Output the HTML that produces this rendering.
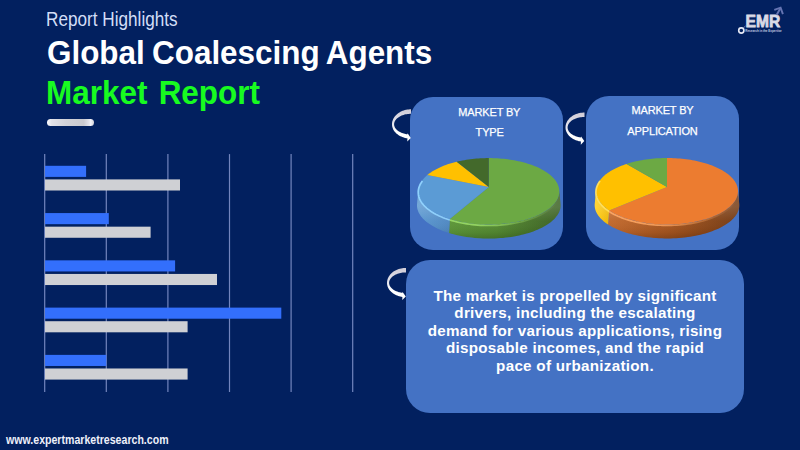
<!DOCTYPE html>
<html>
<head>
<meta charset="utf-8">
<style>
*{margin:0;padding:0;box-sizing:border-box}
html,body{width:800px;height:450px;overflow:hidden;background:#02205f}
body{position:relative;font-family:"Liberation Sans",Arial,sans-serif}
.t{position:absolute;white-space:nowrap;line-height:1}
#rh{left:45.5px;top:9.8px;font-size:19.3px;color:#d3def7;transform-origin:0 0;transform:scaleX(0.89)}
#t1{left:46.7px;top:36.9px;font-size:32.4px;font-weight:700;color:#fff;word-spacing:-1.5px;transform-origin:0 0;transform:scaleX(0.97)}
#t2{left:45.5px;top:77px;font-size:32.4px;font-weight:700;color:#18fb20;word-spacing:2.6px;transform-origin:0 0;transform:scaleX(0.971)}
#pill{position:absolute;left:47px;top:118.6px;width:47.2px;height:7.6px;border-radius:3.8px;
 background:linear-gradient(90deg,#fbfbff 0%,#e2e2e8 10%,#d2d2d8 40%,#c9c9cf 78%,#e4e4ec 90%,#f4f4fa 93%,#cfcfd6 100%)}
.card{position:absolute;background:#4472c4;border-radius:23px}
.ct{position:absolute;color:#fff;font-size:11px;line-height:1;white-space:nowrap;text-align:center;-webkit-text-stroke:0.25px #fff;letter-spacing:-0.15px}
#body{position:absolute;left:406px;top:286.7px;width:338px;text-align:center;color:#fff;font-weight:700;
 font-size:15.2px;line-height:17.6px;letter-spacing:0.28px}
#url{left:6px;top:433.8px;font-size:12px;font-weight:700;color:#eef0fa;transform-origin:0 0;transform:scaleX(0.882)}
svg{position:absolute;left:0;top:0}
</style>
</head>
<body>
<div class="t" id="rh">Report Highlights</div>
<div class="t" id="t1">Global Coalescing Agents</div>
<div class="t" id="t2">Market Report</div>
<div id="pill"></div>

<svg width="800" height="450" viewBox="0 0 800 450">
 <g stroke="#7f90c8" stroke-width="1.2" stroke-opacity="0.9">
  <line x1="44.7" y1="154.1" x2="44.7" y2="392"/>
  <line x1="106.3" y1="154.1" x2="106.3" y2="392"/>
  <line x1="167.9" y1="154.1" x2="167.9" y2="392"/>
  <line x1="229.5" y1="154.1" x2="229.5" y2="392"/>
  <line x1="291.1" y1="154.1" x2="291.1" y2="392"/>
  <line x1="352.7" y1="154.1" x2="352.7" y2="392"/>
 </g>
 <g fill="#336ffc">
  <rect x="45" y="165.80" width="41.1" height="11.1"/>
  <rect x="45" y="213.07" width="63.8" height="11.1"/>
  <rect x="45" y="260.34" width="130.1" height="11.1"/>
  <rect x="45" y="307.61" width="236.3" height="11.1"/>
  <rect x="45" y="354.88" width="61.3" height="11.1"/>
 </g>
 <g fill="#cfd0d4">
  <rect x="45" y="179.40" width="135.0" height="11.1"/>
  <rect x="45" y="226.67" width="105.6" height="11.1"/>
  <rect x="45" y="273.94" width="172.0" height="11.1"/>
  <rect x="45" y="321.21" width="142.6" height="11.1"/>
  <rect x="45" y="368.48" width="142.6" height="11.1"/>
 </g>
</svg>

<div class="card" style="left:410.4px;top:97.3px;width:152.3px;height:152.7px"></div>
<div class="card" style="left:586px;top:96px;width:153px;height:154.3px"></div>
<div class="card" style="left:406px;top:260px;width:338px;height:153px;border-radius:24px"></div>

<div class="ct" style="left:410.8px;width:157px;top:106.5px">MARKET BY</div>
<div class="ct" style="left:411.2px;width:157px;top:127.4px">TYPE</div>
<div class="ct" style="left:586px;width:153px;top:104.7px">MARKET BY</div>
<div class="ct" style="left:586px;width:153px;top:125.8px">APPLICATION</div>

<svg width="800" height="450" viewBox="0 0 800 450">
 <defs>
  <linearGradient id="ag" x1="0" y1="0" x2="0" y2="1">
   <stop offset="0" stop-color="#cfcbd6"/>
   <stop offset="0.45" stop-color="#e6e6ee"/>
   <stop offset="0.7" stop-color="#ffffff"/>
   <stop offset="1" stop-color="#ffffff"/>
  </linearGradient>
 </defs>
 <g id="arrows" fill="url(#ag)">
  <path d="M411.00,109.30 L409.76,109.33 L408.52,109.43 L407.29,109.59 L406.08,109.81 L404.89,110.10 L403.73,110.44 L402.60,110.85 L401.50,111.31 L400.44,111.83 L399.43,112.40 L398.47,113.02 L397.56,113.69 L396.72,114.41 L395.93,115.17 L395.20,115.97 L394.55,116.80 L393.96,117.67 L393.45,118.56 L393.01,119.48 L392.65,120.42 L392.37,121.37 L392.16,122.34 L392.04,123.32 L392.00,124.30 L392.03,125.12 L392.13,125.94 L392.28,126.75 L392.50,127.56 L392.78,128.36 L393.12,129.14 L393.52,129.90 L393.98,130.65 L394.49,131.38 L395.06,132.08 L395.68,132.75 L396.35,133.40 L397.07,134.02 L397.83,134.61 L398.64,135.16 L399.49,135.68 L400.38,136.16 L401.30,136.60 L402.26,137.00 L403.24,137.35 L404.25,137.67 L405.28,137.94 L406.33,138.16 L407.40,138.34 L407.30,141.50 L410.80,137.90 L407.60,133.30 L407.40,134.27 L406.47,134.13 L405.56,133.96 L404.67,133.76 L403.79,133.53 L402.94,133.27 L402.11,132.98 L401.32,132.66 L400.55,132.32 L399.82,131.95 L399.12,131.55 L398.46,131.14 L397.84,130.70 L397.26,130.24 L396.73,129.76 L396.24,129.27 L395.80,128.76 L395.40,128.23 L395.06,127.69 L394.77,127.14 L394.53,126.59 L394.34,126.02 L394.21,125.45 L394.13,124.88 L394.10,124.30 L394.14,123.61 L394.24,122.93 L394.42,122.25 L394.68,121.58 L395.00,120.92 L395.39,120.28 L395.84,119.66 L396.36,119.05 L396.95,118.47 L397.59,117.91 L398.29,117.38 L399.05,116.88 L399.86,116.41 L400.71,115.97 L401.61,115.57 L402.55,115.21 L403.53,114.88 L404.53,114.60 L405.57,114.36 L406.63,114.16 L407.70,114.00 L408.79,113.89 L409.89,113.82 L411.00,113.80 Z"/>
  <path transform="translate(173.5,3.2)" d="M411.00,109.30 L409.76,109.33 L408.52,109.43 L407.29,109.59 L406.08,109.81 L404.89,110.10 L403.73,110.44 L402.60,110.85 L401.50,111.31 L400.44,111.83 L399.43,112.40 L398.47,113.02 L397.56,113.69 L396.72,114.41 L395.93,115.17 L395.20,115.97 L394.55,116.80 L393.96,117.67 L393.45,118.56 L393.01,119.48 L392.65,120.42 L392.37,121.37 L392.16,122.34 L392.04,123.32 L392.00,124.30 L392.03,125.12 L392.13,125.94 L392.28,126.75 L392.50,127.56 L392.78,128.36 L393.12,129.14 L393.52,129.90 L393.98,130.65 L394.49,131.38 L395.06,132.08 L395.68,132.75 L396.35,133.40 L397.07,134.02 L397.83,134.61 L398.64,135.16 L399.49,135.68 L400.38,136.16 L401.30,136.60 L402.26,137.00 L403.24,137.35 L404.25,137.67 L405.28,137.94 L406.33,138.16 L407.40,138.34 L407.30,141.50 L410.80,137.90 L407.60,133.30 L407.40,134.27 L406.47,134.13 L405.56,133.96 L404.67,133.76 L403.79,133.53 L402.94,133.27 L402.11,132.98 L401.32,132.66 L400.55,132.32 L399.82,131.95 L399.12,131.55 L398.46,131.14 L397.84,130.70 L397.26,130.24 L396.73,129.76 L396.24,129.27 L395.80,128.76 L395.40,128.23 L395.06,127.69 L394.77,127.14 L394.53,126.59 L394.34,126.02 L394.21,125.45 L394.13,124.88 L394.10,124.30 L394.14,123.61 L394.24,122.93 L394.42,122.25 L394.68,121.58 L395.00,120.92 L395.39,120.28 L395.84,119.66 L396.36,119.05 L396.95,118.47 L397.59,117.91 L398.29,117.38 L399.05,116.88 L399.86,116.41 L400.71,115.97 L401.61,115.57 L402.55,115.21 L403.53,114.88 L404.53,114.60 L405.57,114.36 L406.63,114.16 L407.70,114.00 L408.79,113.89 L409.89,113.82 L411.00,113.80 Z"/>
  <path transform="translate(-5,158.6)" d="M411.00,109.30 L409.76,109.33 L408.52,109.43 L407.29,109.59 L406.08,109.81 L404.89,110.10 L403.73,110.44 L402.60,110.85 L401.50,111.31 L400.44,111.83 L399.43,112.40 L398.47,113.02 L397.56,113.69 L396.72,114.41 L395.93,115.17 L395.20,115.97 L394.55,116.80 L393.96,117.67 L393.45,118.56 L393.01,119.48 L392.65,120.42 L392.37,121.37 L392.16,122.34 L392.04,123.32 L392.00,124.30 L392.03,125.12 L392.13,125.94 L392.28,126.75 L392.50,127.56 L392.78,128.36 L393.12,129.14 L393.52,129.90 L393.98,130.65 L394.49,131.38 L395.06,132.08 L395.68,132.75 L396.35,133.40 L397.07,134.02 L397.83,134.61 L398.64,135.16 L399.49,135.68 L400.38,136.16 L401.30,136.60 L402.26,137.00 L403.24,137.35 L404.25,137.67 L405.28,137.94 L406.33,138.16 L407.40,138.34 L407.30,141.50 L410.80,137.90 L407.60,133.30 L407.40,134.27 L406.47,134.13 L405.56,133.96 L404.67,133.76 L403.79,133.53 L402.94,133.27 L402.11,132.98 L401.32,132.66 L400.55,132.32 L399.82,131.95 L399.12,131.55 L398.46,131.14 L397.84,130.70 L397.26,130.24 L396.73,129.76 L396.24,129.27 L395.80,128.76 L395.40,128.23 L395.06,127.69 L394.77,127.14 L394.53,126.59 L394.34,126.02 L394.21,125.45 L394.13,124.88 L394.10,124.30 L394.14,123.61 L394.24,122.93 L394.42,122.25 L394.68,121.58 L395.00,120.92 L395.39,120.28 L395.84,119.66 L396.36,119.05 L396.95,118.47 L397.59,117.91 L398.29,117.38 L399.05,116.88 L399.86,116.41 L400.71,115.97 L401.61,115.57 L402.55,115.21 L403.53,114.88 L404.53,114.60 L405.57,114.36 L406.63,114.16 L407.70,114.00 L408.79,113.89 L409.89,113.82 L411.00,113.80 Z"/>
 </g>
 <g id="pies">
<defs>
 <linearGradient id="sg_g" gradientUnits="userSpaceOnUse" x1="445" y1="0" x2="560" y2="0"><stop offset="0" stop-color="#5c9637"/><stop offset="0.45" stop-color="#548a31"/><stop offset="1" stop-color="#3a5f21"/></linearGradient>
 <linearGradient id="sg_b" gradientUnits="userSpaceOnUse" x1="418" y1="0" x2="452" y2="0"><stop offset="0" stop-color="#5a97d0"/><stop offset="1" stop-color="#4d86c0"/></linearGradient>
 <linearGradient id="sg_o" gradientUnits="userSpaceOnUse" x1="608" y1="0" x2="738" y2="0"><stop offset="0" stop-color="#c2682b"/><stop offset="0.5" stop-color="#a4541e"/><stop offset="1" stop-color="#733912"/></linearGradient>
 <linearGradient id="sg_y" gradientUnits="userSpaceOnUse" x1="596" y1="0" x2="612" y2="0"><stop offset="0" stop-color="#ffcc10"/><stop offset="1" stop-color="#eab000"/></linearGradient>
<linearGradient id="vsha" gradientUnits="userSpaceOnUse" x1="0" y1="207.0" x2="0" y2="239.0"><stop offset="0" stop-color="#fff" stop-opacity="0.16"/><stop offset="0.45" stop-color="#fff" stop-opacity="0.03"/><stop offset="0.8" stop-color="#000" stop-opacity="0.06"/><stop offset="1" stop-color="#000" stop-opacity="0.2"/></linearGradient>
<linearGradient id="rga0" gradientUnits="userSpaceOnUse" x1="418.89826343358845" y1="0" x2="558.7017365664116" y2="0"><stop offset="0" stop-color="#9ee06a" stop-opacity="0.95"/><stop offset="0.45" stop-color="#9ee06a" stop-opacity="0.8"/><stop offset="0.75" stop-color="#9ee06a" stop-opacity="0.35"/><stop offset="1" stop-color="#9ee06a" stop-opacity="0"/></linearGradient>
<linearGradient id="rga1" gradientUnits="userSpaceOnUse" x1="418.89826343358845" y1="0" x2="558.7017365664116" y2="0"><stop offset="0" stop-color="#92d4ff" stop-opacity="0.95"/><stop offset="0.45" stop-color="#92d4ff" stop-opacity="0.8"/><stop offset="0.75" stop-color="#92d4ff" stop-opacity="0.35"/><stop offset="1" stop-color="#92d4ff" stop-opacity="0"/></linearGradient>
<linearGradient id="vshb" gradientUnits="userSpaceOnUse" x1="0" y1="206.9" x2="0" y2="238.9"><stop offset="0" stop-color="#fff" stop-opacity="0.16"/><stop offset="0.45" stop-color="#fff" stop-opacity="0.03"/><stop offset="0.8" stop-color="#000" stop-opacity="0.06"/><stop offset="1" stop-color="#000" stop-opacity="0.2"/></linearGradient>
<linearGradient id="rgb0" gradientUnits="userSpaceOnUse" x1="596.6025064366636" y1="0" x2="737.3974935633364" y2="0"><stop offset="0" stop-color="#ffa865" stop-opacity="0.95"/><stop offset="0.45" stop-color="#ffa865" stop-opacity="0.8"/><stop offset="0.75" stop-color="#ffa865" stop-opacity="0.35"/><stop offset="1" stop-color="#ffa865" stop-opacity="0"/></linearGradient>
<linearGradient id="rgb1" gradientUnits="userSpaceOnUse" x1="596.6025064366636" y1="0" x2="737.3974935633364" y2="0"><stop offset="0" stop-color="#ffe060" stop-opacity="0.95"/><stop offset="0.45" stop-color="#ffe060" stop-opacity="0.8"/><stop offset="0.75" stop-color="#ffe060" stop-opacity="0.35"/><stop offset="1" stop-color="#ffe060" stop-opacity="0"/></linearGradient>
</defs>
<path d="M559.20,189.57 L559.29,190.73 L559.29,191.89 L559.20,193.05 L559.03,194.22 L558.77,195.39 L558.41,196.57 L557.97,197.74 L557.44,198.90 L556.81,200.06 L556.10,201.22 L555.29,202.37 L554.38,203.51 L553.39,204.63 L552.31,205.74 L551.13,206.84 L549.86,207.92 L548.50,208.98 L547.06,210.03 L545.52,211.04 L543.90,212.04 L542.20,213.01 L540.41,213.95 L538.54,214.86 L536.60,215.74 L534.57,216.58 L532.48,217.39 L530.31,218.17 L528.07,218.91 L525.77,219.60 L523.41,220.26 L520.99,220.87 L518.52,221.44 L515.99,221.97 L513.42,222.44 L510.81,222.88 L508.16,223.26 L505.48,223.59 L502.77,223.88 L500.03,224.11 L497.28,224.30 L494.51,224.43 L491.73,224.51 L488.94,224.54 L486.16,224.51 L483.38,224.44 L480.60,224.31 L477.85,224.13 L475.11,223.90 L472.39,223.62 L469.71,223.30 L467.06,222.92 L464.44,222.49 L461.87,222.02 L459.34,221.50 L456.86,220.93 L454.43,220.32 L452.06,219.67 L449.76,218.98 L449.03,232.98 L451.38,233.67 L453.79,234.32 L456.26,234.93 L458.79,235.50 L461.36,236.02 L463.99,236.49 L466.65,236.92 L469.35,237.30 L472.09,237.62 L474.85,237.90 L477.64,238.13 L480.45,238.31 L483.27,238.44 L486.11,238.51 L488.94,238.54 L491.78,238.51 L494.61,238.43 L497.43,238.30 L500.24,238.11 L503.03,237.88 L505.79,237.59 L508.52,237.26 L511.22,236.88 L513.88,236.44 L516.50,235.97 L519.07,235.44 L521.59,234.87 L524.05,234.26 L526.46,233.60 L528.80,232.91 L531.08,232.17 L533.29,231.39 L535.42,230.58 L537.49,229.74 L539.47,228.86 L541.37,227.95 L543.19,227.01 L544.93,226.04 L546.58,225.04 L548.14,224.03 L549.61,222.98 L551.00,221.92 L552.29,220.84 L553.49,219.74 L554.59,218.63 L555.60,217.51 L556.52,216.37 L557.35,215.22 L558.08,214.06 L558.71,212.90 L559.26,211.74 L559.71,210.57 L560.07,209.39 L560.34,208.22 L560.51,207.05 L560.60,205.89 L560.60,204.73 L560.51,203.57 Z" fill="url(#sg_g)"/>
<path d="M449.76,218.98 L447.51,218.24 L445.33,217.47 L443.21,216.66 L441.18,215.81 L439.22,214.93 L437.33,214.02 L435.53,213.08 L433.82,212.11 L432.18,211.11 L430.64,210.09 L429.18,209.05 L427.82,207.98 L426.54,206.90 L425.35,205.80 L424.26,204.68 L423.26,203.55 L422.35,202.41 L421.53,201.26 L420.81,200.10 L420.18,198.94 L419.64,197.77 L419.19,196.59 L418.84,195.42 L418.57,194.24 L418.40,193.07 L418.31,191.90 L418.31,190.73 L418.40,189.57 L417.09,203.57 L417.00,204.73 L417.00,205.90 L417.09,207.07 L417.27,208.24 L417.54,209.42 L417.90,210.59 L418.35,211.77 L418.90,212.94 L419.54,214.10 L420.28,215.26 L421.11,216.41 L422.04,217.55 L423.06,218.68 L424.17,219.80 L425.38,220.90 L426.68,221.98 L428.07,223.05 L429.56,224.09 L431.13,225.11 L432.79,226.11 L434.54,227.08 L436.38,228.02 L438.29,228.93 L440.29,229.81 L442.37,230.66 L444.52,231.47 L446.74,232.24 L449.03,232.98 Z" fill="url(#sg_b)"/>
<path d="M559.20,189.57 L559.29,190.73 L559.29,191.89 L559.20,193.06 L559.03,194.23 L558.77,195.40 L558.41,196.57 L557.97,197.75 L557.43,198.91 L556.81,200.08 L556.09,201.23 L555.27,202.38 L554.37,203.52 L553.37,204.65 L552.29,205.76 L551.11,206.86 L549.84,207.94 L548.48,209.01 L547.03,210.05 L545.49,211.07 L543.86,212.06 L542.16,213.03 L540.36,213.97 L538.49,214.88 L536.54,215.76 L534.51,216.61 L532.41,217.42 L530.24,218.19 L528.00,218.93 L525.69,219.63 L523.33,220.28 L520.90,220.89 L518.42,221.46 L515.89,221.99 L513.32,222.46 L510.70,222.89 L508.05,223.27 L505.36,223.61 L502.65,223.89 L499.91,224.12 L497.15,224.30 L494.37,224.43 L491.59,224.51 L488.80,224.54 L486.01,224.51 L483.23,224.43 L480.45,224.30 L477.69,224.12 L474.95,223.89 L472.24,223.61 L469.55,223.27 L466.90,222.89 L464.28,222.46 L461.71,221.99 L459.18,221.46 L456.70,220.89 L454.27,220.28 L451.91,219.63 L449.60,218.93 L447.36,218.19 L445.19,217.42 L443.09,216.61 L441.06,215.76 L439.11,214.88 L437.24,213.97 L435.44,213.03 L433.74,212.06 L432.11,211.07 L430.57,210.05 L429.12,209.01 L427.76,207.94 L426.49,206.86 L425.31,205.76 L424.23,204.65 L423.23,203.52 L422.33,202.38 L421.51,201.23 L420.79,200.08 L420.17,198.91 L419.63,197.75 L419.19,196.57 L418.83,195.40 L418.57,194.23 L418.40,193.06 L418.31,191.89 L418.31,190.73 L418.40,189.57 L417.09,203.57 L417.00,204.73 L417.00,205.89 L417.09,207.06 L417.27,208.23 L417.53,209.40 L417.89,210.57 L418.35,211.75 L418.89,212.91 L419.53,214.08 L420.26,215.23 L421.09,216.38 L422.01,217.52 L423.02,218.65 L424.13,219.76 L425.33,220.86 L426.63,221.94 L428.01,223.01 L429.49,224.05 L431.06,225.07 L432.71,226.06 L434.45,227.03 L436.28,227.97 L438.18,228.88 L440.17,229.76 L442.24,230.61 L444.38,231.42 L446.59,232.19 L448.87,232.93 L451.22,233.63 L453.63,234.28 L456.10,234.89 L458.63,235.46 L461.20,235.99 L463.82,236.46 L466.49,236.89 L469.19,237.27 L471.93,237.61 L474.70,237.89 L477.49,238.12 L480.30,238.30 L483.12,238.43 L485.96,238.51 L488.80,238.54 L491.64,238.51 L494.48,238.43 L497.30,238.30 L500.11,238.12 L502.90,237.89 L505.67,237.61 L508.41,237.27 L511.11,236.89 L513.78,236.46 L516.40,235.99 L518.97,235.46 L521.50,234.89 L523.97,234.28 L526.38,233.63 L528.73,232.93 L531.01,232.19 L533.22,231.42 L535.36,230.61 L537.43,229.76 L539.42,228.88 L541.32,227.97 L543.15,227.03 L544.89,226.06 L546.54,225.07 L548.11,224.05 L549.59,223.01 L550.97,221.94 L552.27,220.86 L553.47,219.76 L554.58,218.65 L555.59,217.52 L556.51,216.38 L557.34,215.23 L558.07,214.08 L558.71,212.91 L559.25,211.75 L559.71,210.57 L560.07,209.40 L560.33,208.23 L560.51,207.06 L560.60,205.89 L560.60,204.73 L560.51,203.57 Z" fill="url(#vsha)"/>
<path d="M488.80,187.00 L488.80,158.10 L490.96,158.12 L493.11,158.16 L495.26,158.24 L497.41,158.35 L499.55,158.49 L501.68,158.66 L503.80,158.86 L505.90,159.09 L508.00,159.36 L510.08,159.65 L512.14,159.97 L514.18,160.33 L516.20,160.71 L518.20,161.13 L520.17,161.57 L522.12,162.04 L524.04,162.55 L525.93,163.08 L527.79,163.64 L529.61,164.23 L531.40,164.85 L533.15,165.50 L534.86,166.17 L536.53,166.87 L538.16,167.60 L539.74,168.36 L541.28,169.14 L542.77,169.94 L544.20,170.77 L545.58,171.63 L546.91,172.51 L548.18,173.41 L549.40,174.34 L550.55,175.29 L551.64,176.26 L552.66,177.25 L553.62,178.26 L554.51,179.28 L555.33,180.33 L556.08,181.39 L556.75,182.47 L557.35,183.57 L557.88,184.67 L558.32,185.79 L558.68,186.93 L558.96,188.07 L559.16,189.22 L559.27,190.38 L559.30,191.55 L559.24,192.72 L559.09,193.89 L558.85,195.07 L558.52,196.25 L558.10,197.42 L557.59,198.60 L556.98,199.77 L556.28,200.93 L555.49,202.09 L554.61,203.23 L553.63,204.37 L552.56,205.49 L551.40,206.60 L550.15,207.69 L548.80,208.76 L547.37,209.81 L545.84,210.84 L544.23,211.84 L542.54,212.82 L540.76,213.77 L538.89,214.69 L536.95,215.58 L534.93,216.44 L532.83,217.26 L530.67,218.05 L528.43,218.79 L526.13,219.50 L523.76,220.16 L521.34,220.79 L518.86,221.37 L516.33,221.90 L513.75,222.39 L511.13,222.83 L508.47,223.22 L505.78,223.56 L503.05,223.85 L500.31,224.09 L497.54,224.28 L494.75,224.42 L491.96,224.50 L489.16,224.54 L486.36,224.52 L483.56,224.45 L480.78,224.32 L478.01,224.15 L475.25,223.92 L472.52,223.64 L469.82,223.31 L467.15,222.93 L464.52,222.50 L461.93,222.03 L459.39,221.51 L456.90,220.94 L454.46,220.33 L452.08,219.67 L449.76,218.98 Z" fill="#6ca944"/>
<path d="M488.80,187.00 L449.76,218.98 L447.53,218.25 L445.37,217.49 L443.28,216.69 L441.27,215.85 L439.32,214.98 L437.46,214.08 L435.67,213.15 L433.97,212.20 L432.35,211.22 L430.81,210.21 L429.36,209.18 L428.00,208.13 L426.72,207.06 L425.53,205.98 L424.44,204.87 L423.43,203.76 L422.52,202.63 L421.69,201.50 L420.96,200.35 L420.31,199.20 L419.76,198.04 L419.30,196.88 L418.92,195.72 L418.64,194.56 L418.44,193.40 L418.33,192.24 L418.30,191.09 L418.36,189.94 L418.50,188.80 L418.73,187.66 L419.03,186.54 L419.42,185.42 L419.88,184.32 L420.42,183.23 L421.04,182.16 L421.72,181.09 L422.48,180.05 L423.31,179.02 L424.20,178.01 L425.17,177.02 L426.19,176.05 L427.28,175.09 Z" fill="#5b9bd5"/>
<path d="M488.80,187.00 L427.28,175.09 L428.41,174.18 L429.59,173.29 L430.83,172.41 L432.13,171.56 L433.47,170.73 L434.86,169.93 L436.31,169.14 L437.79,168.39 L439.33,167.65 L440.90,166.94 L442.52,166.26 L444.17,165.60 L445.86,164.97 L447.59,164.37 L449.35,163.79 L451.14,163.24 L452.97,162.71 L454.82,162.21 L456.70,161.74 Z" fill="#ffc000"/>
<path d="M488.80,187.00 L456.70,161.74 L458.59,161.31 L460.50,160.89 L462.43,160.51 L464.38,160.16 L466.35,159.83 L468.34,159.53 L470.34,159.26 L472.36,159.02 L474.39,158.80 L476.43,158.62 L478.47,158.46 L480.53,158.33 L482.59,158.23 L484.66,158.16 L486.73,158.11 L488.80,158.10 Z" fill="#43692b"/>
<path d="M555.25,181.09 L556.01,182.14 L556.69,183.20 L557.30,184.28 L557.84,185.37 L558.30,186.47 L558.68,187.59 L558.98,188.71 L559.20,189.85 L559.34,190.99 L559.39,192.14 L559.36,193.30 L559.24,194.46 L559.04,195.62 L558.74,196.79 L558.36,197.95 L557.89,199.11 L557.33,200.27 L556.68,201.42 L555.94,202.57 L555.10,203.70 L554.18,204.83 L553.16,205.94 L552.05,207.05 L550.86,208.13 L549.57,209.20 L548.20,210.25 L546.74,211.28 L545.19,212.28 L543.55,213.26 L541.84,214.22 L540.04,215.15 L538.16,216.04 L536.21,216.91 L534.18,217.74 L532.08,218.54 L529.91,219.30 L527.67,220.03 L525.37,220.71 L523.01,221.35 L520.59,221.96 L518.13,222.51 L515.61,223.03 L513.04,223.50 L510.44,223.92 L507.80,224.29 L505.13,224.62 L502.42,224.89 L499.70,225.12 L496.96,225.29 L494.20,225.42 L491.44,225.49 L488.66,225.52 L485.89,225.49 L483.13,225.41 L480.37,225.28 L477.63,225.10 L474.91,224.87 L472.21,224.59 L469.54,224.26 L466.90,223.88 L464.30,223.45 L461.75,222.98 L459.23,222.46 L456.77,221.90 L454.36,221.29 L452.00,220.65 L449.71,219.96" fill="none" stroke="url(#rga0)" stroke-width="1.7"/>
<path d="M449.71,219.96 L447.48,219.23 L445.32,218.47 L443.23,217.67 L441.22,216.84 L439.27,215.97 L437.41,215.07 L435.62,214.15 L433.92,213.19 L432.30,212.21 L430.76,211.20 L429.31,210.18 L427.94,209.13 L426.66,208.06 L425.48,206.98 L424.38,205.88 L423.37,204.77 L422.45,203.64 L421.63,202.51 L420.89,201.37 L420.24,200.22 L419.69,199.06 L419.22,197.90 L418.84,196.74 L418.55,195.58 L418.35,194.42 L418.24,193.27 L418.21,192.11 L418.26,190.97 L418.40,189.83 L418.63,188.69 L418.93,187.57 L419.31,186.46 L419.77,185.36 L420.30,184.27 L420.91,183.19 L421.59,182.13 L422.35,181.09" fill="none" stroke="url(#rga1)" stroke-width="1.7"/>
<path d="M737.90,189.47 L737.99,190.62 L737.99,191.77 L737.91,192.93 L737.73,194.09 L737.47,195.26 L737.12,196.42 L736.68,197.58 L736.15,198.74 L735.53,199.90 L734.82,201.05 L734.02,202.19 L733.12,203.32 L732.14,204.44 L731.06,205.54 L729.89,206.64 L728.63,207.71 L727.28,208.77 L725.84,209.81 L724.32,210.82 L722.71,211.81 L721.01,212.78 L719.24,213.72 L717.38,214.63 L715.44,215.50 L713.43,216.35 L711.34,217.16 L709.19,217.94 L706.96,218.68 L704.67,219.38 L702.32,220.04 L699.91,220.65 L697.44,221.23 L694.93,221.76 L692.37,222.24 L689.76,222.68 L687.12,223.08 L684.44,223.42 L681.74,223.71 L679.00,223.96 L676.25,224.15 L673.48,224.30 L670.70,224.39 L667.92,224.43 L665.13,224.43 L662.35,224.37 L659.57,224.25 L656.81,224.09 L654.06,223.88 L651.34,223.62 L648.64,223.31 L645.97,222.95 L643.34,222.54 L640.75,222.08 L638.20,221.58 L635.71,221.04 L633.26,220.45 L630.87,219.81 L628.54,219.14 L626.27,218.43 L624.07,217.68 L621.93,216.89 L619.87,216.06 L617.89,215.21 L615.98,214.32 L614.15,213.40 L612.40,212.45 L610.73,211.48 L609.15,210.48 L608.08,224.48 L609.69,225.48 L611.39,226.45 L613.17,227.40 L615.03,228.32 L616.98,229.21 L619.00,230.06 L621.10,230.89 L623.27,231.68 L625.52,232.43 L627.83,233.14 L630.20,233.81 L632.64,234.45 L635.13,235.04 L637.67,235.58 L640.27,236.08 L642.90,236.54 L645.58,236.95 L648.30,237.31 L651.05,237.62 L653.82,237.88 L656.62,238.09 L659.43,238.25 L662.26,238.37 L665.10,238.43 L667.93,238.43 L670.77,238.39 L673.60,238.30 L676.42,238.15 L679.23,237.96 L682.01,237.71 L684.76,237.42 L687.49,237.08 L690.18,236.68 L692.84,236.24 L695.45,235.76 L698.01,235.23 L700.52,234.65 L702.97,234.04 L705.37,233.38 L707.70,232.68 L709.97,231.94 L712.16,231.16 L714.29,230.35 L716.34,229.50 L718.31,228.63 L720.20,227.72 L722.01,226.78 L723.74,225.81 L725.38,224.82 L726.93,223.81 L728.39,222.77 L729.77,221.71 L731.05,220.64 L732.24,219.54 L733.34,218.44 L734.34,217.32 L735.26,216.19 L736.07,215.05 L736.80,213.90 L737.43,212.74 L737.97,211.58 L738.42,210.42 L738.77,209.26 L739.04,208.09 L739.21,206.93 L739.30,205.77 L739.30,204.62 L739.21,203.47 Z" fill="url(#sg_o)"/>
<path d="M609.15,210.48 L607.68,209.47 L606.30,208.45 L605.00,207.40 L603.79,206.34 L602.66,205.27 L601.63,204.18 L600.68,203.07 L599.82,201.96 L599.04,200.84 L598.36,199.71 L597.76,198.58 L597.26,197.44 L596.83,196.30 L596.50,195.15 L596.25,194.01 L596.09,192.87 L596.01,191.73 L596.01,190.60 L596.10,189.47 L594.79,203.47 L594.70,204.60 L594.70,205.73 L594.78,206.87 L594.94,208.01 L595.20,209.15 L595.54,210.30 L595.97,211.44 L596.48,212.58 L597.09,213.71 L597.79,214.84 L598.57,215.96 L599.45,217.07 L600.42,218.18 L601.47,219.27 L602.62,220.34 L603.85,221.40 L605.18,222.45 L606.59,223.47 L608.08,224.48 Z" fill="url(#sg_y)"/>
<path d="M737.90,189.47 L737.99,190.63 L737.99,191.79 L737.90,192.96 L737.73,194.13 L737.46,195.30 L737.11,196.47 L736.66,197.65 L736.12,198.81 L735.49,199.98 L734.76,201.13 L733.95,202.28 L733.04,203.42 L732.03,204.55 L730.94,205.66 L729.75,206.76 L728.47,207.84 L727.10,208.91 L725.64,209.95 L724.09,210.97 L722.46,211.96 L720.73,212.93 L718.93,213.87 L717.04,214.78 L715.08,215.66 L713.04,216.51 L710.92,217.32 L708.73,218.09 L706.48,218.83 L704.15,219.53 L701.77,220.18 L699.33,220.79 L696.83,221.36 L694.29,221.89 L691.69,222.36 L689.06,222.79 L686.39,223.17 L683.68,223.51 L680.94,223.79 L678.18,224.02 L675.41,224.20 L672.61,224.33 L669.81,224.41 L667.00,224.44 L664.19,224.41 L661.39,224.33 L658.59,224.20 L655.82,224.02 L653.06,223.79 L650.32,223.51 L647.61,223.17 L644.94,222.79 L642.31,222.36 L639.71,221.89 L637.17,221.36 L634.67,220.79 L632.23,220.18 L629.85,219.53 L627.52,218.83 L625.27,218.09 L623.08,217.32 L620.96,216.51 L618.92,215.66 L616.96,214.78 L615.07,213.87 L613.27,212.93 L611.54,211.96 L609.91,210.97 L608.36,209.95 L606.90,208.91 L605.53,207.84 L604.25,206.76 L603.06,205.66 L601.97,204.55 L600.96,203.42 L600.05,202.28 L599.24,201.13 L598.51,199.98 L597.88,198.81 L597.34,197.65 L596.89,196.47 L596.54,195.30 L596.27,194.13 L596.10,192.96 L596.01,191.79 L596.01,190.63 L596.10,189.47 L594.79,203.47 L594.70,204.63 L594.70,205.79 L594.79,206.96 L594.97,208.13 L595.24,209.30 L595.60,210.47 L596.06,211.65 L596.60,212.81 L597.25,213.98 L597.99,215.13 L598.82,216.28 L599.74,217.42 L600.77,218.55 L601.88,219.66 L603.09,220.76 L604.40,221.84 L605.79,222.91 L607.28,223.95 L608.85,224.97 L610.52,225.96 L612.27,226.93 L614.11,227.87 L616.03,228.78 L618.03,229.66 L620.11,230.51 L622.27,231.32 L624.50,232.09 L626.80,232.83 L629.16,233.53 L631.59,234.18 L634.07,234.79 L636.62,235.36 L639.21,235.89 L641.85,236.36 L644.53,236.79 L647.26,237.17 L650.01,237.51 L652.80,237.79 L655.61,238.02 L658.44,238.20 L661.28,238.33 L664.14,238.41 L667.00,238.44 L669.86,238.41 L672.72,238.33 L675.56,238.20 L678.39,238.02 L681.20,237.79 L683.99,237.51 L686.74,237.17 L689.47,236.79 L692.15,236.36 L694.79,235.89 L697.38,235.36 L699.93,234.79 L702.41,234.18 L704.84,233.53 L707.20,232.83 L709.50,232.09 L711.73,231.32 L713.89,230.51 L715.97,229.66 L717.97,228.78 L719.89,227.87 L721.73,226.93 L723.48,225.96 L725.15,224.97 L726.72,223.95 L728.21,222.91 L729.60,221.84 L730.91,220.76 L732.12,219.66 L733.23,218.55 L734.26,217.42 L735.18,216.28 L736.01,215.13 L736.75,213.98 L737.40,212.81 L737.94,211.65 L738.40,210.47 L738.76,209.30 L739.03,208.13 L739.21,206.96 L739.30,205.79 L739.30,204.63 L739.21,203.47 Z" fill="url(#vshb)"/>
<path d="M667.00,186.90 L667.00,158.00 L669.16,158.02 L671.32,158.06 L673.48,158.14 L675.63,158.25 L677.78,158.38 L679.91,158.55 L682.04,158.75 L684.15,158.98 L686.25,159.24 L688.34,159.54 L690.41,159.86 L692.45,160.21 L694.48,160.59 L696.49,161.00 L698.47,161.44 L700.42,161.91 L702.35,162.41 L704.25,162.94 L706.11,163.50 L707.95,164.08 L709.74,164.69 L711.50,165.34 L713.22,166.00 L714.90,166.70 L716.54,167.42 L718.13,168.17 L719.68,168.95 L721.17,169.75 L722.62,170.57 L724.01,171.42 L725.35,172.29 L726.63,173.19 L727.86,174.11 L729.02,175.05 L730.12,176.01 L731.16,176.99 L732.13,178.00 L733.04,179.02 L733.87,180.06 L734.63,181.11 L735.32,182.18 L735.94,183.27 L736.48,184.37 L736.93,185.49 L737.31,186.61 L737.61,187.75 L737.83,188.89 L737.96,190.04 L738.00,191.20 L737.96,192.37 L737.83,193.54 L737.61,194.71 L737.30,195.88 L736.90,197.05 L736.40,198.22 L735.82,199.39 L735.14,200.55 L734.37,201.70 L733.51,202.85 L732.55,203.98 L731.50,205.10 L730.36,206.21 L729.13,207.30 L727.80,208.37 L726.39,209.42 L724.89,210.45 L723.30,211.46 L721.62,212.44 L719.86,213.40 L718.01,214.32 L716.09,215.22 L714.08,216.08 L712.01,216.91 L709.85,217.70 L707.63,218.46 L705.34,219.18 L702.99,219.85 L700.58,220.49 L698.11,221.08 L695.59,221.62 L693.02,222.13 L690.41,222.58 L687.75,222.99 L685.06,223.34 L682.34,223.65 L679.60,223.91 L676.83,224.12 L674.04,224.27 L671.24,224.38 L668.44,224.43 L665.63,224.43 L662.82,224.38 L660.02,224.28 L657.24,224.12 L654.47,223.92 L651.72,223.66 L649.00,223.35 L646.31,222.99 L643.65,222.59 L641.04,222.14 L638.47,221.64 L635.95,221.09 L633.48,220.50 L631.06,219.87 L628.71,219.19 L626.42,218.48 L624.20,217.72 L622.04,216.93 L619.96,216.10 L617.96,215.24 L616.03,214.34 L614.19,213.42 L612.42,212.46 L610.74,211.48 L609.15,210.48 Z" fill="#ec7c30"/>
<path d="M667.00,186.90 L609.15,210.48 L607.67,209.46 L606.27,208.43 L604.96,207.37 L603.74,206.30 L602.60,205.21 L601.56,204.11 L600.61,202.99 L599.74,201.86 L598.97,200.73 L598.29,199.59 L597.70,198.44 L597.20,197.29 L596.78,196.13 L596.46,194.98 L596.22,193.82 L596.07,192.67 L596.00,191.52 L596.02,190.38 L596.13,189.24 L596.31,188.11 L596.58,186.98 L596.93,185.87 L597.35,184.77 L597.85,183.68 L598.43,182.61 L599.08,181.54 L599.80,180.50 L600.59,179.47 L601.45,178.45 L602.38,177.46 L603.37,176.48 L604.43,175.52 L605.54,174.58 L606.72,173.67 L607.95,172.77 L609.24,171.90 L610.59,171.05 L611.98,170.22 L613.43,169.42 L614.92,168.64 L616.46,167.89 L618.05,167.16 L619.68,166.46 L621.34,165.78 L623.05,165.13 L624.80,164.51 L626.58,163.91 Z" fill="#ffc000"/>
<path d="M667.00,186.90 L626.58,163.91 L628.39,163.34 L630.24,162.80 L632.12,162.29 L634.02,161.80 L635.96,161.34 L637.92,160.92 L639.90,160.52 L641.90,160.15 L643.92,159.80 L645.96,159.49 L648.02,159.21 L650.09,158.96 L652.18,158.73 L654.27,158.54 L656.38,158.37 L658.49,158.24 L660.61,158.13 L662.74,158.06 L664.87,158.01 L667.00,158.00 Z" fill="#6ca944"/>
<path d="M733.92,180.99 L734.69,182.04 L735.38,183.12 L736.00,184.20 L736.54,185.30 L737.01,186.42 L737.39,187.54 L737.69,188.68 L737.91,189.83 L738.04,190.98 L738.09,192.14 L738.05,193.30 L737.92,194.47 L737.71,195.65 L737.40,196.82 L737.00,197.99 L736.51,199.16 L735.93,200.33 L735.25,201.49 L734.49,202.64 L733.62,203.79 L732.67,204.92 L731.62,206.04 L730.48,207.15 L729.25,208.24 L727.92,209.32 L726.51,210.37 L725.01,211.40 L723.41,212.41 L721.74,213.40 L719.97,214.35 L718.13,215.28 L716.20,216.18 L714.20,217.04 L712.12,217.87 L709.96,218.66 L707.74,219.42 L705.45,220.14 L703.09,220.82 L700.68,221.45 L698.20,222.05 L695.68,222.59 L693.11,223.10 L690.49,223.55 L687.83,223.96 L685.14,224.32 L682.41,224.63 L679.66,224.89 L676.89,225.09 L674.09,225.25 L671.29,225.36 L668.48,225.41 L665.67,225.41 L662.86,225.36 L660.05,225.26 L657.26,225.10 L654.48,224.90 L651.73,224.64 L649.00,224.33 L646.31,223.98 L643.65,223.57 L641.03,223.12 L638.45,222.62 L635.93,222.08 L633.45,221.49 L631.03,220.85 L628.67,220.18 L626.38,219.46 L624.15,218.71 L621.99,217.91 L619.91,217.08 L617.90,216.22 L615.97,215.33 L614.12,214.40 L612.35,213.45 L610.67,212.46 L609.07,211.46" fill="none" stroke="url(#rgb0)" stroke-width="1.7"/>
<path d="M609.07,211.46 L607.56,210.42 L606.14,209.37 L604.81,208.29 L603.57,207.20 L602.43,206.09 L601.37,204.97 L600.41,203.83 L599.54,202.69 L598.77,201.53 L598.09,200.37 L597.50,199.20 L597.01,198.03 L596.61,196.85 L596.30,195.68 L596.08,194.50 L595.95,193.33 L595.91,192.16 L595.95,191.00 L596.09,189.84 L596.30,188.70 L596.61,187.56 L596.99,186.43 L597.45,185.31 L597.99,184.21 L598.61,183.12 L599.31,182.05 L600.08,180.99" fill="none" stroke="url(#rgb1)" stroke-width="1.7"/>
</g>
 <!-- EMR logo -->
 <g>
  <text x="745.6" y="27" font-family="Liberation Sans, Arial, sans-serif" font-weight="700" font-size="16.6" fill="#d9dae6" stroke="#d9dae6" stroke-width="0.8" textLength="34.6" lengthAdjust="spacingAndGlyphs">EMR</text>
  <path d="M776.6,15 L780.4,8.2" fill="none" stroke="#6574b2" stroke-width="2"/>
  <path d="M774.3,9.9 L780.6,7.7 L782.9,14.1" fill="none" stroke="#6574b2" stroke-width="1.9" stroke-linejoin="miter"/>
  <circle cx="741.3" cy="30.5" r="2.6" fill="none" stroke="#e6e8f4" stroke-width="1.6"/>
  <line x1="743.2" y1="28.3" x2="745.6" y2="25.6" stroke="#8e9ac8" stroke-width="0.7"/>
  <text x="745.3" y="32.3" font-family="Liberation Sans, Arial, sans-serif" font-size="3.3" font-weight="700" fill="#c3c9e2" textLength="36.5" lengthAdjust="spacingAndGlyphs">Research in the Expertise</text>
 </g>
</svg>

<div id="body">The market is propelled by significant<br>drivers, including the escalating<br>demand for various applications, rising<br>disposable incomes, and the rapid<br>pace of urbanization.</div>

<div class="t" id="url">www.expertmarketresearch.com</div>
</body>
</html>
